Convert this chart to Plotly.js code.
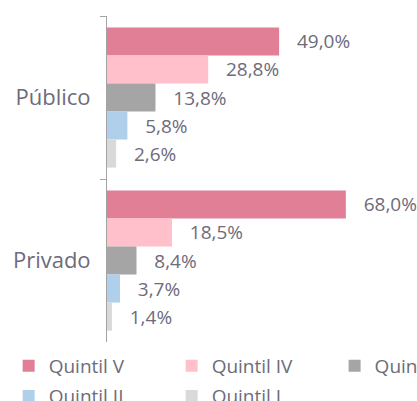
<!DOCTYPE html>
<html>
<head>
<meta charset="utf-8">
<script src="https://cdn.plot.ly/plotly-3.0.1.min.js"></script>
<style>html,body{margin:0;padding:0;background:#fff;}#chart{width:417px;height:401px;}</style>
</head>
<body>
<div id="chart"></div>
<script>
const categories = ['Público', 'Privado'];
const seriesNames = ['Quintil V', 'Quintil IV', 'Quintil III', 'Quintil II', 'Quintil I'];
const quintilV = [49.0, 68.0];
const quintilIV = [28.8, 18.5];
const quintilIII = [13.8, 8.4];
const quintilII = [5.8, 3.7];
const quintilI = [2.6, 1.4];
const seriesValues = [quintilV, quintilIV, quintilIII, quintilII, quintilI];
const colors = ['#e17f96', '#ffc0cc', '#a5a5a5', '#b0cfea', '#d9d9d9'];

const textColor = '#6e6b7b';
const fontFamily = '"Open Sans", sans-serif';
const legendIds = ['legend', 'legend2', 'legend3', 'legend4', 'legend5'];

const traces = seriesNames.map((name, i) => ({
  type: 'bar',
  orientation: 'h',
  name: name,
  legend: legendIds[i],
  y: categories,
  x: seriesValues[i],
  marker: {color: colors[i]},
  texttemplate: '\u00a0\u00a0\u00a0%{x:.1f}%',
  textposition: 'outside',
  cliponaxis: false,
  textfont: {color: textColor, size: 19, family: fontFamily},
  hoverinfo: 'skip'
}));

// legend slots (paper fractions): three in the first row, two in the second
const legendX = [-0.35, 0.23, 0.81, -0.35, 0.23];
const legendY = [-0.015, -0.015, -0.015, -0.108, -0.108];

const layout = {
  width: 417,
  height: 401,
  margin: {l: 107, r: 29, t: 16, b: 59, autoexpand: false},
  paper_bgcolor: '#fff',
  plot_bgcolor: '#fff',
  separators: ',.',
  barmode: 'group',
  bargap: 0.14,
  bargroupgap: 0,
  showlegend: true,
  font: {family: fontFamily, color: textColor, size: 19},
  xaxis: {
    range: [0, 80],
    visible: false,
    showgrid: false,
    zeroline: false
  },
  yaxis: {
    type: 'category',
    autorange: 'reversed',
    showline: true,
    linecolor: '#a3a3a3',
    linewidth: 1,
    ticks: 'outside',
    tickson: 'boundaries',
    ticklen: 6,
    tickcolor: '#a3a3a3',
    showgrid: false,
    zeroline: false,
    ticklabelstandoff: 11,
    tickfont: {size: 22, color: textColor, family: fontFamily}
  }
};

legendIds.forEach((id, i) => {
  layout[id] = {
    orientation: 'h',
    x: legendX[i],
    xanchor: 'left',
    y: legendY[i],
    yanchor: 'top',
    bgcolor: 'rgba(0,0,0,0)',
    font: {size: 19, color: textColor, family: fontFamily},
    itemclick: false
  };
});

Plotly.newPlot('chart', traces, layout, {staticPlot: true, displayModeBar: false});
</script>
</body>
</html>
